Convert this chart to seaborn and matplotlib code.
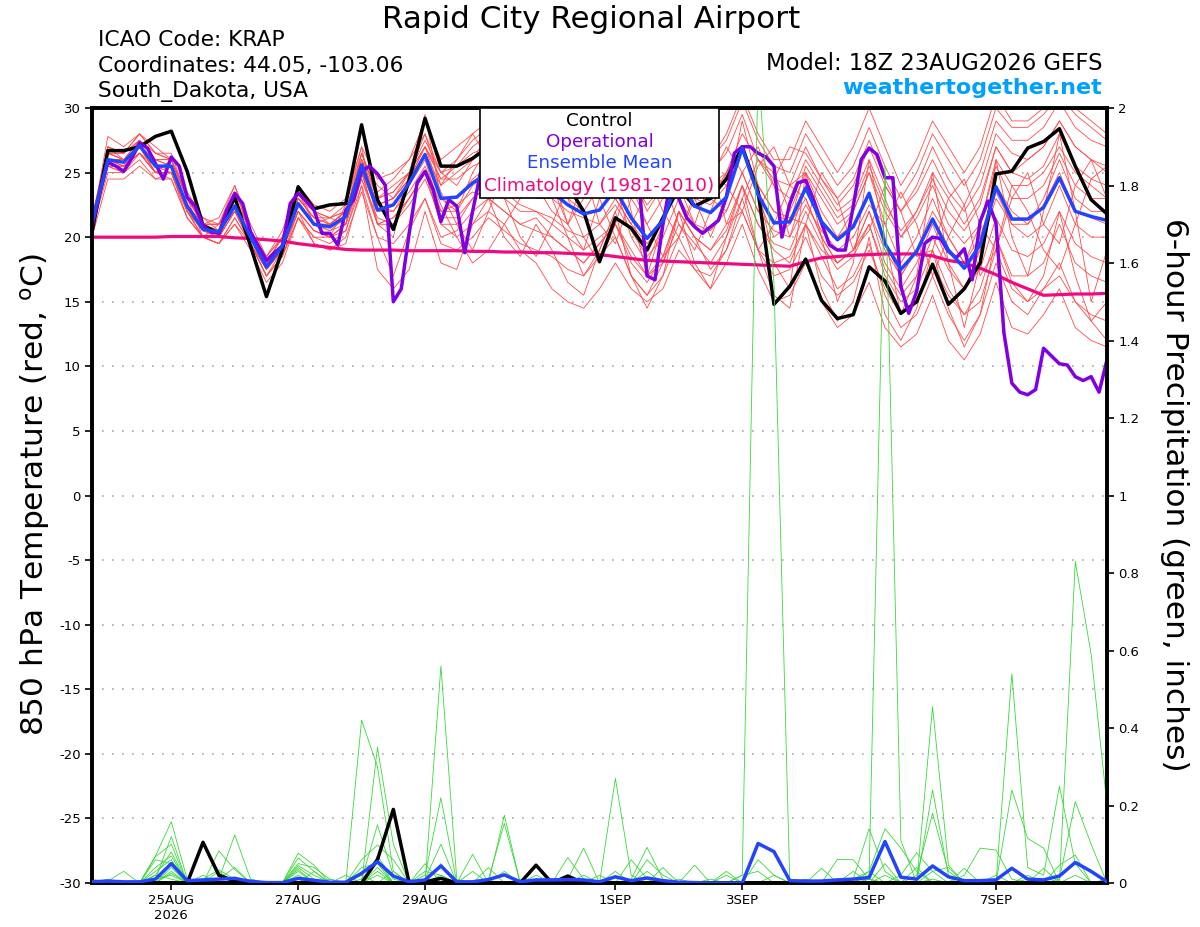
import matplotlib
matplotlib.use('Agg')
import matplotlib.pyplot as plt
import pandas as pd
import seaborn as sns
from matplotlib.patches import Rectangle

# ---- data (6-hourly from 18Z 23AUG2026, operational 3-hourly) ----
start = '2026-08-23 18:00'

control_temp = [20.4, 26.7, 26.7, 27.0, 27.8, 28.2, 25.1, 20.9, 20.3, 23.1,
                19.3, 15.4, 19.0, 23.9, 22.2, 22.5, 22.6, 28.7, 22.9, 20.6,
                24.4, 29.2, 25.5, 25.5, 26.1, 27.0, 27.5, 26.5, 25.5, 25.0,
                24.0, 22.0, 18.1, 21.5, 20.7, 19.0, 21.5, 23.8, 22.4, 23.0,
                24.5, 27.0, 23.5, 14.8, 16.2, 18.3, 15.1, 13.7, 14.0, 17.7,
                16.6, 14.1, 15.0, 17.9, 14.8, 16.0, 18.0, 24.9, 25.1, 26.9,
                27.4, 28.4, 25.5, 22.9, 21.8]

mean_temp = [21.1, 26.0, 25.8, 27.1, 25.5, 25.5, 22.4, 20.6, 20.4, 22.4,
             20.0, 17.7, 19.3, 22.6, 21.0, 20.8, 21.6, 25.6, 22.1, 22.5,
             24.2, 26.4, 23.0, 23.1, 24.2, 25.0, 25.0, 24.5, 24.0, 23.5,
             22.5, 21.8, 22.1, 23.7, 21.5, 19.9, 21.3, 24.5, 22.4, 21.9,
             23.1, 26.9, 23.3, 21.1, 21.2, 23.8, 21.2, 19.8, 20.8, 23.4,
             19.5, 17.5, 18.9, 21.4, 19.0, 17.6, 19.4, 23.9, 21.4, 21.4,
             22.3, 24.6, 22.0, 21.6, 21.3]

clim_temp = [20.0, 20.0, 20.0, 20.0, 20.0, 20.05, 20.05, 20.05, 20.05, 19.95,
             19.9, 19.8, 19.7, 19.5, 19.35, 19.2, 19.05, 19.0, 19.0, 19.0,
             18.95, 18.95, 18.95, 18.95, 18.9, 18.9, 18.85, 18.85, 18.8, 18.8,
             18.75, 18.7, 18.65, 18.5, 18.35, 18.2, 18.15, 18.1, 18.05, 18.0,
             17.95, 17.9, 17.85, 17.8, 17.75, 18.1, 18.4, 18.5, 18.6, 18.65,
             18.7, 18.7, 18.7, 18.55, 18.2, 18.0, 17.6, 17.1, 16.5, 16.0,
             15.5, 15.55, 15.6, 15.6, 15.65]

oper_temp = [20.8, 23.5, 25.8, 25.5, 25.1, 26.1, 27.3, 26.9, 25.7, 24.5,
             26.2, 25.5, 23.1, 22.4, 20.9, 20.4, 20.3, 22.1, 23.4, 22.6,
             20.4, 19.3, 18.2, 18.8, 19.3, 22.6, 23.4, 22.8, 22.1, 20.3,
             20.3, 19.4, 22.1, 22.9, 25.1, 25.5, 24.9, 24.0, 15.0, 16.0,
             20.3, 24.2, 25.1, 23.7, 21.2, 22.9, 22.4, 18.8, 22.0, 25.0,
             26.0, 25.5, 26.5, 27.0, 26.0, 25.0, 24.5, 25.5, 26.5, 25.5,
             26.0, 27.0, 28.0, 29.5, 29.0, 29.5, 27.5, 26.0, 25.0, 24.0,
             17.0, 16.7, 21.0, 24.5, 23.0, 21.5, 20.8, 20.3, 20.8, 21.3,
             23.1, 26.5, 27.0, 27.0, 26.5, 26.2, 25.5, 20.0, 22.6, 24.2,
             24.4, 22.9, 21.1, 19.4, 19.0, 19.0, 22.4, 26.0, 26.9, 26.4,
             24.6, 24.6, 16.2, 14.1, 15.8, 19.5, 20.0, 19.9, 18.9, 18.4,
             19.1, 16.7, 21.2, 22.8, 21.1, 12.6, 8.7, 8.0, 7.8, 8.2,
             11.4, 10.8, 10.2, 10.1, 9.2, 8.9, 9.2, 8.0, 10.5]

member_temps = [
    [21,27.8,27,28,27, 26,23,21,21,23, 20.5,18,19.5,23,22, 21,22,26,24,23, 25,27,25,24,26,
     27,26,25,26,25, 23,22,24,25,23, 21,23,26,24,23, 25,28,26,24,23, 26,24,22,23,26,
     23,20,22,25,23, 21,23,27,25,26, 27,29,27,26,25],
    [20,24.5,24.5,25.5,24.5, 25,21.5,20,19.5,21.5, 19.5,17,18.5,21.5,20, 19.5,20.5,24,20,19.5,
     21,23,20,20.5,22, 23,22,21,21.5,20, 19,18,19.5,21,18.5, 17,18,21,19.5,18,
     20,23,19,17,17.5, 20,17,15.5,16.5,19, 16,14,15,18,15.5, 14,16,20,17,17, 18,21,18,17,16.5],
    [21.5,27,26.5,27.5,26.5, 26,23.5,21.5,20.5,22.5, 20,18,20,23.5,21, 21.5,21,26.5,23,24,
     25,28,24,25,26, 28,29.5,27,24,22, 21,23,26,24,20, 18,21,24,26,23,
     22,25,27,24,20, 24,21,20,22,25, 21,18,20,23,20, 18,20,24,22,21, 23,26,23,22,22],
    [21,25.5,25.5,26.5,25, 25,22,20,20,22, 19.5,17.5,19,22,20.5, 20,21,25,21,21,
     23,25,21,21,23, 24,23,22,22,21, 20,19,20,21,19, 17,18.5,22,20,19,
     21,24,21,19,18, 21,18.5,16,17,19.5, 15.5,13,14,17,14, 12,14,18,15,14, 16,18,15,13.5,12],
    [21,26.5,26.5,28,26.5, 26.5,23,21,21.5,24, 21,18.5,20,24,22.5, 22,23,27,24.5,25,
     26,29,26,27,28, 29,28,27.5,28,27, 26,25,26,28,26, 24,26,29,27,26,
     28,31,28,26,26, 29,27,25,27,30, 27,24,26,29,27, 25,27,31,29,29, 30,32,30,29,28],
    [20.5,26,25.5,27,25, 25,22.5,20.5,20,22, 20,17.5,19.5,22.5,21, 20.5,21.5,25.5,22,22.5,
     24,26,22,22,24, 25,25.5,24,23,23, 24,25.5,21,19.5,23, 25,22,20,23.5,26,
     21,22,25.5,27,24, 23,20,18,19,22, 18,16,18,21,18, 16,19,23,21,20, 21,24,21,20,20],
    [21,26,26,27,25.5, 25.5,22,20.5,20.5,22, 20,17.5,19,22,20.5, 20,21,25,21,21.5,
     23,25,21,20,21, 22,21,19,18,16, 15,14.5,16,18,16, 15,16,19,17.5,17,
     19,22,19,18,18.5, 21,19,18,19,22, 19,17,19,22,20, 18,21,26,24,24, 25,27,25,24,23],
    [21.5,26.5,26,27.5,26, 25.5,22.5,21,20.5,23, 20.5,18,19.5,23,21.5, 21,22,26,23,23.5,
     25,27.5,25,25.5,27, 28,29,28,27,27.5, 26,25.5,26,27,25, 22,24,27,25,24,
     25,27,24,22,21, 23,20,18,19,21, 17,15,16,19,16, 14,15,19,16,15, 16,17,15,14,13.5],
    [20.5,25.5,25.5,26.5,25.5, 25,22,20.5,20,22.5, 19.5,17,19,22.5,21, 21,21.5,25,22.5,22,
     24,26.5,23,23,24.5, 25.5,25,25.5,24,23, 22,21.5,21,23,21, 19.5,21,24.5,23,22.5,
     24,27,24,22,21.5, 21,25,23,19,20.5, 24,22,18.5,19,23, 24.5,21,19,23,25, 21,19.5,24,26,23],
    [21,27,26,27,25, 26,23,20,21,24, 20,18.5,20.5,24,21, 20,22.5,27,21,20,
     25,29.5,23,22,25, 27,24,23,26,24, 21,19,23,27,22, 17,21,27,23,20,
     23,29,24,18,16, 25,20,15,18,26, 20,14,17,25,18, 13,18,26,20,17, 22,28,22,15,19],
    [21,26,25.5,26.5,25, 25.5,22,20.5,20.5,22, 20,18,19.5,22.5,21, 20.5,21,25,22,22,
     23.5,25.5,22.5,20,18, 19,21,23,25.5,23, 20,17,19,22,24, 21,18.5,20,23,25,
     24,22,19,21,24, 25,23,21,22,25, 22,20,21.5,24,21, 19.5,21,25.5,23,23, 24,26.5,24,23,23],
    [20.5,25,25,26,24.5, 24.5,21.5,20,19.5,21, 19,16.5,18,21.5,19.5, 19,20,23.5,20,17,
     20.5,23,19.5,19,20, 21.5,20.5,19.5,19,18.5, 17.5,17,18.5,20,17, 15.5,17,20,17.5,16,
     18,21,17.5,15,15.5, 18,15,13,14,16.5, 13,11.5,12.5,15.5,12, 10.5,12.5,16.5,13,12.5,
     14,16,13,12,11.5],
    [21,26.5,26,27,26, 25.5,22.5,20.5,20.5,22.5, 20,17.5,19.5,23,21.5, 21,22,26,22.5,23,
     24.5,26.5,24,26,28, 26,23,20,18.5,21, 24,26,23,20,17, 15.5,18,22,20,17.5,
     19,23,26,25,22, 25,22,20,21,23.5, 19.5,17,19,21.5,19, 17.5,19,23.5,21,21,
     22.5,25,22,21.5,21],
    [21.5,26.5,26.5,27.5,26, 26,23,21,21,23.5, 20.5,18.5,20,23.5,22, 21.5,22.5,26.5,23.5,24.5,
     26,28,25,26,27.5, 28.5,28,27,27.5,27, 25.5,24.5,25,27,25, 23,25,28,26.5,26,
     27.5,30.5,27.5,25.5,25, 28,26,24,25.5,28.5, 25.5,23,25,28,26, 24,26,30,28.5,28.5,
     29.5,31,29.5,28.5,27.5],
    [20.5,25.5,25,26.5,25, 25,22,20,19.5,21.5, 19.5,17,18.5,21.5,20, 20,20.5,24.5,21,21.5,
     23,25,22,22.5,23.5, 23,22,21,20.5,20, 19,18,19.5,21,18, 16.5,18.5,22,20,19,
     20.5,24,21,19.5,19, 22,19.5,17.5,18.5,21, 17.5,15.5,17,20,17.5, 16,17.5,21.5,19,18.5,
     19.5,22,19.5,18.5,18],
    [21,26,26,27,25.5, 25.5,22.5,21,20.5,22.5, 20,18,19.5,22.5,21, 21,22,25.5,22.5,23,
     24.5,27,24.5,24.5,25.5, 26,26.5,26,25.5,25, 21,24.5,26,23,21, 23.5,26.5,24,21,24.5,
     27,25,22,24.5,27, 26.5,24.5,22.5,24,27, 24,22,23.5,26,23.5, 22,24,28,26.5,26,
     27,29,27,26,25.5],
    [21,25.5,25,27,25, 24.5,21.5,20,19.5,21, 19.5,17,18.5,22,19.5, 19,19.5,24,17.5,16,
     17.5,22,18,17.5,21, 23,20,18.5,21,19, 16.5,15.5,19,22,17, 14.5,17,22,18,16,
     20,24,19,15.5,14.5, 21,16,13.5,15,20, 14,12,14.5,19,14.5, 11.5,14,20,16.5,15,
     17,22,17,13.5,15],
    [21.5,27,26.5,28,26.5, 26,23,21.5,21,23, 20.5,18,20,23.5,22, 21.5,22,26.5,23,23.5,
     25,27,24.5,25.5,26.5, 27,27.5,26.5,26.5,26, 25,24,24.5,26.5,24.5, 22.5,24,27.5,25,25,
     26.5,29.5,26,24.5,24, 27,24.5,23,24.5,27.5, 24.5,22,24,27,24.5, 22.5,25,29,27.5,27.5,
     28.5,30.5,28.5,27.5,27],
    [20.5,26,25.5,26.5,25, 25,22,20,20,22, 19.5,17.5,19,22,20.5, 20,21,24.5,21.5,21,
     22.5,24.5,21.5,21.5,23, 24,23.5,22.5,22,21.5, 20.5,20,21,22.5,20.5, 18.5,20,23,21,20.5,
     22,25,22,20.5,20, 22.5,20.5,19,20,22.5, 21,23.5,21,17,20, 22.5,17,19,24,22,
     19,17.5,21,24.5,25.5],
    [21,26.5,26,27.5,26, 26,23,21,21,23, 20.5,18,20,23,21.5, 21.5,22,26,22.5,23,
     24.5,27,23.5,21,19, 22,25,27,28.5,26, 23,20,18,21,25, 27,24.5,21,19,22,
     25,27,23,20,21, 25.5,23.5,21.5,22.5,25.5, 22.5,20.5,22,24.5,22, 20.5,22.5,27,25,24.5,
     25.5,28,25.5,24.5,24],
]

control_precip = [0, 0, 0, 0, 0, 0, 0, 0.105, 0.02, 0.005,
                  0, 0, 0, 0, 0, 0, 0, 0, 0.06, 0.19,
                  0, 0.003, 0.012, 0, 0, 0, 0, 0, 0.046, 0,
                  0.018, 0, 0, 0, 0, 0, 0, 0, 0, 0,
                  0, 0, 0, 0, 0, 0, 0, 0, 0, 0,
                  0, 0, 0, 0, 0, 0, 0, 0, 0, 0,
                  0, 0, 0, 0, 0]

mean_precip = [0.003, 0.005, 0.003, 0.003, 0.01, 0.05, 0.006, 0.008, 0.01, 0.012,
               0.004, 0.001, 0.001, 0.012, 0.007, 0.002, 0.002, 0.025, 0.055, 0.018,
               0.003, 0.008, 0.044, 0.003, 0.003, 0.009, 0.021, 0.003, 0.008, 0.008,
               0.009, 0.008, 0.003, 0.016, 0.006, 0.013, 0.006, 0.002, 0.001, 0,
               0, 0, 0.102, 0.081, 0.006, 0.005, 0.005, 0.008, 0.01, 0.014,
               0.107, 0.015, 0.01, 0.044, 0.016, 0.006, 0.006, 0.008, 0.038, 0.01,
               0.008, 0.018, 0.053, 0.03, 0.003]

member_precips = [
    [0,0,0,0,.07, .158,.01,0,0,0, 0,0,0,0,0, 0,0,.42,.30,.03, 0,0,0,0,0, 0,.175,0,0,0,
     0,0,0,0,0, 0,0,0,0,0, 0,.02,2.1,1.55,0, 0,0,0,0,0, 0,0,0,0,0, 0,0,0,.24,.115,
     .09,0,0,0,0],
    [0,0,0,0,.01, .12,0,0,.083,.035, 0,0,0,0,0, 0,0,0,.35,.10, 0,0,.56,.01,0, 0,0,0,0,0,
     0,0,0,.27,.02, 0,0,0,0,0, 0,0,0,0,0, 0,0,0,0,0, 0,0,0,.455,.046, 0,0,0,0,0,
     0,0,.83,.59,.2],
    [0,0,0,0,.068, .10,0,0,.01,.124, .01,0,0,.077,.046, 0,0,.01,.15,.02, 0,.02,.22,0,0,
     .01,.154,0,0,0, 0,0,0,0,.01, .092,.01,0,0,0, 0,0,0,0,0, 0,0,0,0,.02,
     1.85,.11,0,0,0, 0,0,0,.54,.04, .02,.25,.05,0,0],
    [0,.005,.03,0,.02, .08,0,0,0,0, 0,0,0,.065,.03, 0,0,.06,.098,.06, 0,.01,.10,0,.074,
     0,0,0,0,0, .01,.09,0,0,0, 0,0,0,.046,0, 0,0,0,0,0, 0,0,0,.01,.14,
     .03,0,0,.24,.02, 0,0,0,0,0, 0,.01,.21,.1,0],
    [0,0,0,0,.03, .06,0,.01,.034,.01, 0,0,0,.05,.04, .01,0,0,.07,.01, 0,.03,.02,0,0,
     0,0,0,.01,0, .066,.01,0,0,0, .06,.02,0,0,0, 0,0,0,0,0, 0,0,.061,.06,.01,
     0,0,.02,.18,.03, 0,0,0,0,.01, 0,.046,.072,0,0],
    [0,0,0,0,.06, .05,0,.02,0,0, 0,0,0,.04,.01, 0,0,.04,.05,0, 0,0,.05,0,0,
     .04,0,0,0,0, .02,0,0,0,.06, .01,0,0,0,0, .03,0,0,0,0, 0,0,0,.01,.03,
     .14,.09,.03,0,0, .02,.09,.085,.01,0, 0,0,0,0,0],
    [0,0,0,0,0, .04,0,0,.01,.04, 0,0,0,.03,0, 0,.02,0,.03,0, 0,.05,0,0,0,
     0,0,0,.02,0, 0,0,0,.03,0, 0,.04,0,0,0, 0,0,.06,.02,0, 0,0,0,0,0,
     0,.02,.078,.03,.04, 0,0,0,0,0, .038,0,0,0,.01],
    [0,.01,0,0,0, .03,0,0,.03,0, 0,0,0,0,.03, 0,0,.02,0,.03, 0,0,0,0,.03,
     0,0,0,0,0, 0,0,.02,0,0, .03,0,0,0,0, 0,.02,.03,0,0, 0,.038,0,.03,0,
     .05,0,.04,0,0, .038,0,0,0,0, 0,0,0,0,0],
    [.01,0,0,0,.01, .02,0,0,0,0, .01,0,0,.02,0, .01,0,0,.02,0, 0,0,0,0,0,
     0,.03,0,0,.01, 0,.02,0,0,0, 0,0,.01,0,0, .02,0,0,.02,0, .01,0,0,0,.03,
     0,0,0,.03,0, 0,0,0,0,.02, 0,0,0,0,0],
    [0,0,0,0,.02, .01,0,.01,0,0, 0,0,0,.01,0, 0,0,0,0,0, .01,0,.01,0,0,
     0,0,.01,0,0, 0,0,0,0,0, 0,0,0,0,.01, 0,0,0,0,0, 0,0,0,0,.01,
     0,0,0,.01,0, 0,0,0,0,0, 0,0,.02,0,0],
    [0,0,0,0,.04, .07,0,0,0,0, 0,0,0,.045,.02, 0,0,0,.04,0, 0,0,.02,0,0,
     0,0,0,0,0, 0,0,0,0,0, 0,0,0,0,0, 0,0,0,0,0, 0,0,0,0,0,
     0,0,0,0,0, 0,0,.02,0,0, 0,0,0,0,0],
    [0,0,0,0,0, .025,0,0,0,0, 0,0,0,.035,0, 0,0,0,.06,0, 0,0,0,0,0,
     0,0,0,0,0, 0,0,0,0,0, 0,0,0,0,0, 0,0,0,0,0, 0,0,0,0,0,
     .02,0,0,0,0, 0,0,0,0,0, 0,0,0,0,0],
]

tick_dates = ['2026-08-25', '2026-08-27', '2026-08-29', '2026-09-01',
              '2026-09-03', '2026-09-05', '2026-09-07']
tick_labels = ['25AUG\n2026', '27AUG', '29AUG', '1SEP', '3SEP', '5SEP', '7SEP']

RED = '#ff4a4a'
GREEN = '#3ad83a'
PURPLE = '#8000e0'
BLUE = '#2244ff'
PINK = '#ee0a80'

sns.set_theme(style='ticks', rc={'axes.edgecolor': 'black', 'text.color': 'black',
                                 'xtick.color': 'black', 'ytick.color': 'black'})
plt.rcParams['font.family'] = ['DejaVu Sans']

times6 = pd.date_range(start, periods=len(control_temp), freq='6h')
times3 = pd.date_range(start, periods=len(oper_temp), freq='3h')

temp_df = pd.DataFrame([(m, t, v) for m, vals in enumerate(member_temps)
                        for t, v in zip(times6, vals)],
                       columns=['member', 'time', 'temp'])
precip_df = pd.DataFrame([(m, t, v) for m, vals in enumerate(member_precips)
                          for t, v in zip(times6, vals)],
                         columns=['member', 'time', 'precip'])

fig = plt.figure(figsize=(12, 9.27), dpi=100)
ax = fig.add_axes([92 / 1200, 1 - 883 / 927, 1015 / 1200, 775 / 927])
ax2 = ax.twinx()

# temperature
sns.lineplot(data=temp_df, x='time', y='temp', units='member', estimator=None,
             color=RED, lw=0.6, ax=ax, legend=False, zorder=1)
sns.lineplot(x=times6, y=clim_temp, color=PINK, lw=2.3, ax=ax, zorder=2)
sns.lineplot(x=times6, y=control_temp, color='black', lw=2.5, ax=ax, zorder=3)
sns.lineplot(x=times3, y=oper_temp, color=PURPLE, lw=2.5, ax=ax, zorder=4)
sns.lineplot(x=times6, y=mean_temp, color=BLUE, lw=2.5, ax=ax, zorder=5)

# precipitation
sns.lineplot(data=precip_df, x='time', y='precip', units='member', estimator=None,
             color=GREEN, lw=0.6, ax=ax2, legend=False, zorder=1)
sns.lineplot(x=times6, y=control_precip, color='black', lw=2.5, ax=ax2, zorder=2)
sns.lineplot(x=times6, y=mean_precip, color=BLUE, lw=2.5, ax=ax2, zorder=3)

ax.set_xlim(times6[0], times6[-1])
ax.set_ylim(-30, 30)
ax2.set_ylim(0, 2)
ax.set_yticks(range(-30, 31, 5))
ax.set_yticklabels([str(v) for v in range(-30, 31, 5)])
ax2.set_yticks([v / 10 for v in range(0, 21, 2)])
ax2.set_yticklabels([f'{v / 10:g}' for v in range(0, 21, 2)])
ax.set_xticks(pd.to_datetime(tick_dates))
ax.set_xticklabels(tick_labels, linespacing=1.15)
for a in (ax, ax2):
    a.set_xlabel('')
    a.set_ylabel('')
    for s in a.spines.values():
        s.set_linewidth(2.6)
        s.set_color('black')
ax.tick_params(axis='both', direction='out', length=5, width=1.2, labelsize=9.5, pad=3)
ax2.tick_params(axis='y', direction='out', length=5, width=1.2, labelsize=9.5, pad=3)
ax.grid(axis='y', color='#a8a8a8', ls=(0, (1, 5)), lw=1.2)
ax.grid(axis='x', visible=False)

# legend box
ax2.add_patch(Rectangle((0.382, 0.884), 0.236, 0.116, transform=ax2.transAxes,
                        facecolor='white', edgecolor='black', lw=1.2, zorder=10))
for txt, col, yy in [('Control', 'black', 0.983), ('Operational', PURPLE, 0.956),
                     ('Ensemble Mean', BLUE, 0.929),
                     ('Climatology (1981-2010)', PINK, 0.900)]:
    ax2.text(0.5, yy, txt, color=col, fontsize=13.2, ha='center', va='center',
             transform=ax2.transAxes, zorder=11)

# header texts
fig.text(591 / 1200, 1 - 19 / 927, 'Rapid City Regional Airport', fontsize=22.3,
         ha='center', va='center')
for txt, yy in [('ICAO Code: KRAP', 40), ('Coordinates: 44.05, -103.06', 66),
                ('South_Dakota, USA', 92)]:
    fig.text(98 / 1200, 1 - yy / 927, txt, fontsize=15.7, ha='left', va='center')
fig.text(1102 / 1200, 1 - 64 / 927, 'Model: 18Z 23AUG2026 GEFS', fontsize=16.3,
         ha='right', va='center')
fig.text(1102 / 1200, 1 - 88 / 927, 'weathertogether.net', fontsize=16,
         fontweight='bold', color='#00a0ff', ha='right', va='center')

fig.text(35 / 1200, 1 - 495 / 927, '850 hPa Temperature (red, $^\\mathrm{o}$C)',
         fontsize=22.5, rotation=90, ha='center', va='center')
fig.text(1174 / 1200, 1 - 495 / 927, '6-hour Precipitation (green, inches)',
         fontsize=22.5, rotation=270, ha='center', va='center')

fig.savefig('out.png', dpi=100)
